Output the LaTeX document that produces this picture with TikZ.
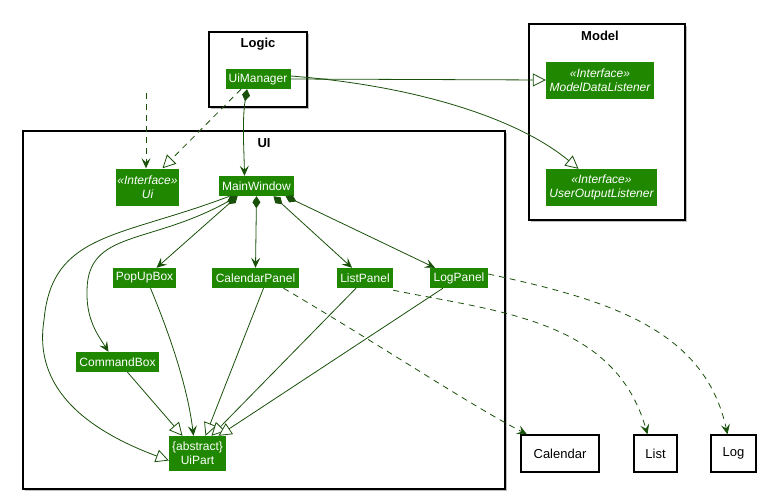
\documentclass[tikz,border=0pt]{standalone}
\usepackage{fontspec}
\setmainfont{Liberation Sans}
\usetikzlibrary{arrows.meta}
\definecolor{boxgreen}{RGB}{31,136,0}
\definecolor{linegreen}{RGB}{24,80,10}
\begin{document}
\begin{tikzpicture}[x=1pt,y=-1pt,
  gbox/.style={fill=boxgreen,text=white,inner sep=0pt,minimum height=20pt,font=\fontsize{12}{14}\selectfont,align=center},
  ibox/.style={gbox,minimum height=37pt,font=\fontsize{12}{14}\selectfont\itshape},
  pkg/.style={draw=black,line width=1.3pt,fill=white},
  pkgtitle/.style={font=\fontsize{13}{15}\selectfont\bfseries},
  wbox/.style={draw=black,line width=1.3pt,fill=white,inner sep=0pt,minimum height=37pt,font=\fontsize{13}{15}\selectfont},
  conn/.style={draw=linegreen,line width=0.8pt},
  dep/.style={conn,dashed,dash pattern=on 6pt off 5pt},
  vee/.style={-{Stealth[length=10pt,width=9pt,inset=4pt]}},
  tri/.style={-{Triangle[open,length=13pt,width=13pt,fill=white]}},
  comp/.style={{Diamond[length=12pt,width=8pt]}-{Stealth[length=10pt,width=9pt,inset=4pt]}}
]
\useasboundingbox (0,0) rectangle (765,499);
% packages (with light shadows)
\fill[black!25] (211,34) rectangle (309,109);
\draw[pkg] (209,32) rectangle (307,107);
\node[pkgtitle] (tlogic) at (258,44) {Logic};
\fill[black!25] (531,26) rectangle (687,222);
\draw[pkg] (529,24) rectangle (685,220);
\node[pkgtitle] (tmodel) at (600,36) {Model};
\fill[black!25] (25,133) rectangle (507,491);
\draw[pkg] (23,131) rectangle (505,489);
\node[pkgtitle] (tui) at (264,143) {UI};

% nodes
\node[gbox,minimum width=65pt] (uim) at (258,79) {UiManager};
\node[ibox,minimum width=108pt] (mdl) at (600,80) {«Interface»\\ModelDataListener};
\node[ibox,minimum width=111pt] (uol) at (601.5,187.5) {«Interface»\\UserOutputListener};
\node[ibox,minimum width=63pt] (ui) at (147.5,187) {«Interface»\\Ui};
\node[gbox,minimum width=75pt] (mw) at (256.5,186) {MainWindow};
\node[gbox,minimum width=63pt] (pop) at (144.5,278) {PopUpBox};
\node[gbox,minimum width=87pt] (cal) at (255.5,278) {CalendarPanel};
\node[gbox,minimum width=56pt] (lst) at (365,278) {ListPanel};
\node[gbox,minimum width=58pt] (lgp) at (459,278) {LogPanel};
\node[gbox,minimum width=83pt] (cmd) at (117.5,362) {CommandBox};
\node[gbox,minimum width=57pt,minimum height=35pt] (uip) at (197.5,453.5) {\{abstract\}\\UiPart};
\node[wbox,minimum width=78pt] (calx) at (560,453.5) {Calendar};
\node[wbox,minimum width=43pt] (lstx) at (655.5,453.5) {List};
\node[wbox,minimum width=45pt] (logx) at (733.5,453.5) {Log};
\coordinate (free) at (146,93);

% Logic connectors
\draw[dep,vee] (free) -- ([xshift=-1.5pt]ui.north);
\draw[dep,tri] ([xshift=-17pt]uim.south) -- ([xshift=15pt]ui.north);
\draw[conn,comp] ([xshift=-11pt]uim.south) .. controls (242,120) and (244,150) .. ([xshift=-12pt]mw.north);
\draw[conn,tri] (uim.east) -- (mdl.west);
\draw[conn,tri] ([yshift=3pt]uim.east) .. controls (420,86) and (520,120) .. ([xshift=-23pt]uol.north);

% MainWindow composition
\draw[conn,-{Triangle[open,length=13pt,width=13pt,fill=white]}] ([xshift=-27pt]mw.south) .. controls (120,238) and (52,232) .. (44,320)
  .. controls (36,370) and (60,420) .. ([yshift=-7pt]uip.west);
\draw[conn,comp] ([xshift=-19pt]mw.south) .. controls (150,245) and (88,230) .. (87,290)
  .. controls (86,320) and (98,335) .. ([xshift=-9pt]cmd.north);
\draw[conn,comp] ([xshift=-19pt]mw.south) -- ([xshift=12pt]pop.north);
\draw[conn,comp] (mw.south) -- (cal.north);
\draw[conn,comp] ([xshift=17pt]mw.south) -- ([xshift=-13pt]lst.north);
\draw[conn,comp] ([xshift=29pt]mw.south) -- ([xshift=-24pt]lgp.north);

% generalisations into UiPart
\draw[conn,tri] ([xshift=10pt]cmd.south) -- ([xshift=-15pt]uip.north);
\draw[conn,vee] ([xshift=6pt]pop.south) .. controls (172,340) and (188,390) .. ([xshift=-4pt]uip.north);
\draw[conn,tri] ([xshift=8pt]cal.south) -- ([xshift=8pt]uip.north);
\draw[conn,tri] ([xshift=-9pt]lst.south) -- ([xshift=14pt]uip.north);
\draw[conn,tri] ([xshift=-16pt]lgp.south) -- ([xshift=21pt]uip.north);

% dependencies to outside
\draw[dep,vee] ([xshift=28pt]cal.south) .. controls (380,345) and (470,405) .. ([xshift=-33pt]calx.north);
\draw[dep,vee] ([yshift=-2pt]lst.south east) .. controls (500,312) and (615,320) .. ([xshift=-8pt]lstx.north);
\draw[dep,vee] ([yshift=4pt]lgp.east) .. controls (610,300) and (705,330) .. ([xshift=-6pt]logx.north);
\end{tikzpicture}
\end{document}
